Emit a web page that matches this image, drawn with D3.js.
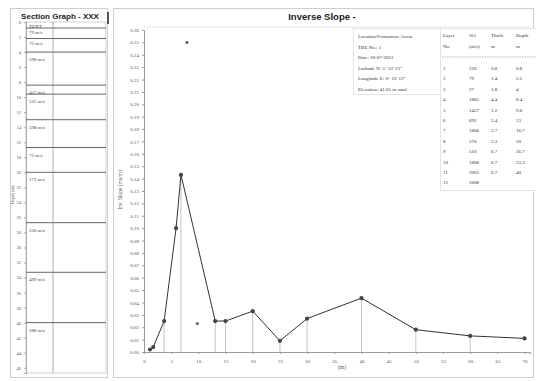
<!DOCTYPE html>
<html>
<head>
<meta charset="utf-8">
<script src="https://cdn.jsdelivr.net/npm/d3@7"></script>
<style>
  body { margin: 0; background: #fff; }
  svg { display: block; }
</style>
</head>
<body>
<div id="chart"></div>
<script>
// inverse slope curve (x in m, y in ms/m)
const slopeX = [1.1, 1.7, 3.7, 5.9, 6.8, 13.1, 15, 20, 25, 30, 40, 50, 60, 70];
const slopeY = [0.002, 0.004, 0.025, 0.100, 0.143, 0.025, 0.025, 0.033, 0.009, 0.027, 0.0435, 0.018, 0.013, 0.011];
const outlierX = [7.9, 9.8];
const outlierY = [0.25, 0.023];
const dropX = [3.7, 6.8, 13.1, 15, 20, 25, 30, 40, 50, 60];
const xTicks = d3.range(0, 71, 5);
const yTicks = d3.range(0, 0.2601, 0.01);

// layer table
const layerNo = [1, 2, 3, 4, 5, 6, 7, 8, 9, 10, 11, 12];
const layerVel = [220, 79, 27, 1885, 1457, 692, 1806, 570, 510, 1808, 2003, 2008];
const layerThick = [0.8, 1.4, 1.8, 4.4, 1.2, 3.4, 3.7, 3.3, 6.7, 6.7, 6.7, null];
const layerDepth = [0.8, 2.2, 4.0, 8.4, 9.6, 13.0, 16.7, 20.0, 26.7, 33.3, 40.0, null];

// section graph labels
const sectionLabels = ['TEXT', '79 m/s', '73 m/s', '598 m/s', '457 m/s', '125 m/s', '598 m/s', '73 m/s', '172 m/s', '226 m/s', '499 m/s', '288 m/s'];
const depthTicks = d3.range(0, 47, 2);

const infoLines = [
  'Location/Formation: Accra',
  'TBE No.: 1',
  'Date: 18-07-2021',
  'Latitude N: 5\u00b0 33\' 23"',
  'Longitude E: 0\u00b0 10\' 12"',
  'Elevation: 41.65 m amsl'
];
const tableHead1 = ['Layer', 'Vel.', 'Thick.', 'Depth'];
const tableHead2 = ['No.', '(m/s)', 'm', 'm'];

const W = 536, H = 381;
const serif = 'Liberation Serif, DejaVu Serif, serif';

const svg = d3.select('#chart').append('svg')
  .attr('width', W)
  .attr('height', H);

// ---------- left panel: section graph ----------
svg.append('rect')
  .attr('x', 10.5).attr('y', 8.5).attr('width', 97).attr('height', 369)
  .attr('fill', 'none').attr('stroke', '#cfcfcf');

svg.append('text')
  .attr('x', 60).attr('y', 19)
  .attr('text-anchor', 'middle')
  .style('font-family', 'Liberation Sans Narrow, Liberation Sans, sans-serif')
  .style('font-size', '8px')
  .style('font-weight', 'bold')
  .attr('fill', '#222')
  .text('Section Graph - XXX');

const dScale = d3.scaleLinear().domain([0, 46.7]).range([22, 373]);
const secLeft = 26, secRight = 106;

const sec = svg.append('g');

sec.append('rect')
  .attr('x', secLeft).attr('y', dScale(0)).attr('width', secRight - secLeft).attr('height', dScale(46.7) - dScale(0))
  .attr('fill', 'none').attr('stroke', '#bbb').attr('stroke-width', 0.7);

sec.append('line')
  .attr('x1', 53).attr('x2', 53).attr('y1', dScale(0)).attr('y2', dScale(46.7))
  .attr('stroke', '#999').attr('stroke-width', 0.8);

const depthAxis = d3.axisLeft(dScale).tickValues(depthTicks).tickSize(2).tickFormat(d3.format('d'));
sec.append('g')
  .attr('transform', `translate(${secLeft},0)`)
  .call(depthAxis)
  .call(g => g.select('.domain').attr('stroke', '#aaa'))
  .call(g => g.selectAll('line').attr('stroke', '#aaa'))
  .call(g => g.selectAll('text').style('font-size', '4.5px').style('font-family', serif).attr('fill', '#555'));

sec.append('text')
  .attr('transform', `translate(14,${dScale(23)}) rotate(-90)`)
  .attr('text-anchor', 'middle')
  .style('font-size', '4.5px').style('font-family', serif).attr('fill', '#666')
  .text('Depth (m)');

sec.selectAll('line.bnd')
  .data(layerDepth.filter(d => d !== null))
  .enter().append('line')
  .attr('class', 'bnd')
  .attr('x1', secLeft).attr('x2', secRight)
  .attr('y1', d => dScale(d)).attr('y2', d => dScale(d))
  .attr('stroke', '#666').attr('stroke-width', 1);

const layerTops = [0].concat(layerDepth.slice(0, -1));
sec.selectAll('text.lbl')
  .data(sectionLabels)
  .enter().append('text')
  .attr('class', 'lbl')
  .attr('x', 29)
  .attr('y', (d, i) => dScale(layerTops[i]) + (i < 3 ? 6 : 9))
  .style('font-size', '5px').style('font-family', serif).attr('fill', '#444')
  .text(d => d);

// drag handle between panels
svg.append('rect').attr('x', 107).attr('y', 12).attr('width', 2).attr('height', 12).attr('fill', '#555');

// ---------- right panel: inverse slope ----------
svg.append('rect')
  .attr('x', 113.5).attr('y', 8.5).attr('width', 420).attr('height', 369)
  .attr('fill', 'none').attr('stroke', '#cfcfcf');

svg.append('text')
  .attr('x', 322).attr('y', 20)
  .attr('text-anchor', 'middle')
  .style('font-family', 'Liberation Sans, Arial, sans-serif')
  .style('font-size', '9.5px')
  .style('font-weight', 'bold')
  .attr('fill', '#222')
  .text('Inverse Slope -');

const x = d3.scaleLinear().domain([0, 71]).range([144, 530]);
const y = d3.scaleLinear().domain([0, 0.26]).range([352, 30]);

const plot = svg.append('g');

plot.append('line')
  .attr('x1', 144).attr('x2', 530).attr('y1', 27).attr('y2', 27)
  .attr('stroke', '#ccc').attr('stroke-dasharray', '1,1');

const yAxis = d3.axisLeft(y).tickValues(yTicks).tickSize(2).tickFormat(d3.format('.2f'));
plot.append('g')
  .attr('transform', 'translate(144,0)')
  .call(yAxis)
  .call(g => g.select('.domain').attr('stroke', '#999'))
  .call(g => g.selectAll('line').attr('stroke', '#999'))
  .call(g => g.selectAll('text').style('font-size', '5px').style('font-family', serif).attr('fill', '#555'));

const xAxis = d3.axisBottom(x).tickValues(xTicks).tickSize(2).tickFormat(d3.format('d'));
plot.append('g')
  .attr('transform', 'translate(0,352)')
  .call(xAxis)
  .call(g => g.select('.domain').attr('stroke', '#999'))
  .call(g => g.selectAll('line').attr('stroke', '#999'))
  .call(g => g.selectAll('text').attr('dy', '1.2em').style('font-size', '5px').style('font-family', serif).attr('fill', '#555'));

plot.append('text')
  .attr('transform', 'translate(122,190) rotate(-90)')
  .attr('text-anchor', 'middle')
  .style('font-size', '5.5px').style('font-family', serif).attr('fill', '#555')
  .text('Inv. Slope (ms/m)');

plot.append('text')
  .attr('x', 342).attr('y', 369)
  .attr('text-anchor', 'middle')
  .style('font-size', '5.5px').style('font-family', serif).attr('fill', '#555')
  .text('(m)');

// drop lines
plot.selectAll('line.drop')
  .data(dropX)
  .enter().append('line')
  .attr('class', 'drop')
  .attr('x1', d => x(d)).attr('x2', d => x(d))
  .attr('y1', d => y(slopeY[slopeX.indexOf(d)])).attr('y2', y(0))
  .attr('stroke', '#aaa').attr('stroke-width', 0.7);

const pts = slopeX.map((d, i) => [d, slopeY[i]]);
plot.append('path')
  .datum(pts)
  .attr('fill', 'none')
  .attr('stroke', '#333')
  .attr('stroke-width', 1)
  .attr('d', d3.line().x(d => x(d[0])).y(d => y(d[1])));

plot.selectAll('circle.pt')
  .data(pts)
  .enter().append('circle')
  .attr('class', 'pt')
  .attr('cx', d => x(d[0])).attr('cy', d => y(d[1]))
  .attr('r', 2.1)
  .attr('fill', '#444');

plot.selectAll('circle.out')
  .data(outlierX)
  .enter().append('circle')
  .attr('class', 'out')
  .attr('cx', d => x(d)).attr('cy', (d, i) => y(outlierY[i]))
  .attr('r', 1.6)
  .attr('fill', '#666');

// info box
const info = svg.append('g');
info.append('rect')
  .attr('x', 353.5).attr('y', 28.5).attr('width', 87).attr('height', 66)
  .attr('fill', '#fff').attr('stroke', '#e4e4e4');
info.selectAll('text')
  .data(infoLines)
  .enter().append('text')
  .attr('x', 358)
  .attr('y', (d, i) => 38 + i * 10.5)
  .style('font-size', '5px').style('font-family', serif).attr('fill', '#333')
  .text(d => d);

// layer table
const tbl = svg.append('g');
const colX = [443, 469, 491, 516];
tbl.append('rect')
  .attr('x', 440.5).attr('y', 28.5).attr('width', 100).attr('height', 162)
  .attr('fill', '#fff').attr('stroke', '#e4e4e4');

[tableHead1, tableHead2].forEach((row, r) => {
  tbl.selectAll(null)
    .data(row)
    .enter().append('text')
    .attr('x', (d, i) => colX[i])
    .attr('y', 37 + r * 11)
    .style('font-size', '5px').style('font-family', serif).attr('fill', '#333')
    .text(d => d);
});

tbl.append('line')
  .attr('x1', 442).attr('x2', 536).attr('y1', 57).attr('y2', 57)
  .attr('stroke', '#888').attr('stroke-width', 0.6).attr('stroke-dasharray', '1.5,1');

const fmt = v => v === null ? '' : (Number.isInteger(v) ? String(v) : v.toFixed(1));
layerNo.forEach((n, i) => {
  const row = [n, layerVel[i], layerThick[i], layerDepth[i]];
  tbl.selectAll(null)
    .data(row)
    .enter().append('text')
    .attr('x', (d, j) => colX[j])
    .attr('y', 70 + i * 10.4)
    .style('font-size', '5px').style('font-family', serif).attr('fill', '#333')
    .text((d, j) => j === 0 ? String(d) : fmt(d));
});
</script>
</body>
</html>
